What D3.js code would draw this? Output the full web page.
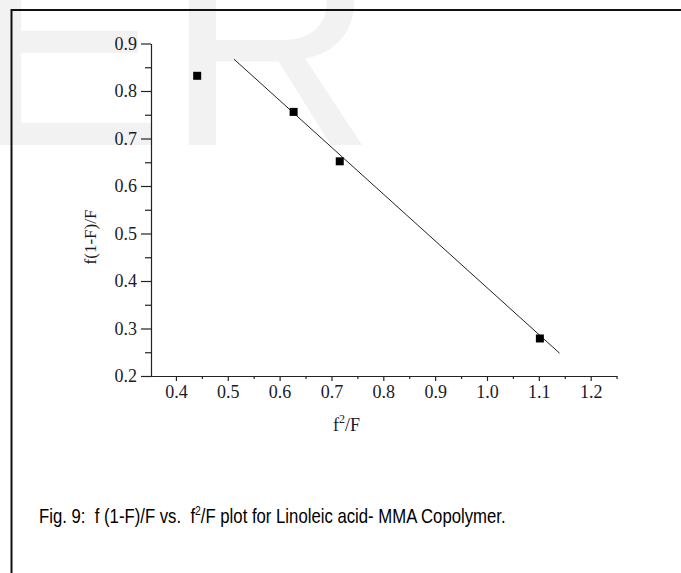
<!DOCTYPE html>
<html>
<head>
<meta charset="utf-8">
<script src="https://cdn.jsdelivr.net/npm/d3@7"></script>
<style>
  body { margin: 0; background: #fff; }
  svg { display: block; }
</style>
</head>
<body>
<svg id="chart"></svg>
<script>
// measured points
const pointsX = [0.441, 0.627, 0.716, 1.102];
const pointsY = [0.832, 0.756, 0.652, 0.279];
// fitted line end points
const fitX = [0.512, 1.14];
const fitY = [0.867, 0.248];

const xTicks = [0.4, 0.5, 0.6, 0.7, 0.8, 0.9, 1.0, 1.1, 1.2];
const xMinorTicks = [0.45, 0.55, 0.65, 0.75, 0.85, 0.95, 1.05, 1.15, 1.25];
const yTicks = [0.2, 0.3, 0.4, 0.5, 0.6, 0.7, 0.8, 0.9];
const yMinorTicks = [0.25, 0.35, 0.45, 0.55, 0.65, 0.75, 0.85];

const width = 681;
const height = 573;
const axisColor = "#222";
const textColor = "#1a1a2a";
const serif = "'Liberation Serif', 'Times New Roman', serif";

document.addEventListener("DOMContentLoaded", () => {
  drawChart("chart");
});

function drawChart(id) {
  const svg = d3.select(`svg#${id}`).attr("width", width).attr("height", height);

  // watermark
  svg
    .append("text")
    .attr("x", -30)
    .attr("y", 145)
    .style("font-family", "'Liberation Sans', Arial, sans-serif")
    .style("font-size", "292px")
    .style("fill", "#f2f2f2")
    .text("ER");

  // frame (top + left only)
  svg
    .append("path")
    .attr("d", `M${width},10H11.5V${height}`)
    .style("fill", "none")
    .style("stroke", "#111")
    .style("stroke-width", 2);

  const x = d3.scaleLinear().domain([0.35, 1.25]).range([150, 616.6]);
  const y = d3.scaleLinear().domain([0.2, 0.9]).range([376, 43.5]);

  // minor ticks
  svg
    .append("g")
    .attr("transform", "translate(151,0)")
    .call(d3.axisLeft(y).tickValues(yMinorTicks).tickSize(6))
    .call((g) => g.select(".domain").remove())
    .call((g) => g.selectAll("text").remove());
  svg
    .append("g")
    .attr("transform", "translate(0,376)")
    .call(d3.axisBottom(x).tickValues(xMinorTicks).tickSize(3))
    .call((g) => g.select(".domain").remove())
    .call((g) => g.selectAll("text").remove());

  svg
    .append("g")
    .attr("transform", "translate(151,0)")
    .call(
      d3
        .axisLeft(y)
        .tickValues(yTicks)
        .tickSize(10)
        .tickSizeOuter(0)
        .tickPadding(4)
        .tickFormat(d3.format(".1f"))
    );

  svg
    .append("g")
    .attr("transform", "translate(0,376)")
    .call(
      d3
        .axisBottom(x)
        .tickValues(xTicks)
        .tickSize(5)
        .tickSizeOuter(0)
        .tickPadding(4)
        .tickFormat(d3.format(".1f"))
    );

  svg
    .selectAll(".tick line, .domain")
    .style("stroke", axisColor)
    .style("stroke-width", 1.2);
  svg
    .selectAll(".tick text")
    .style("font-family", serif)
    .style("font-size", "18px")
    .style("fill", textColor);

  // axis titles
  const xTitle = svg
    .append("text")
    .attr("x", 333)
    .attr("y", 431)
    .style("font-family", serif)
    .style("font-size", "18px")
    .style("fill", textColor);
  xTitle.append("tspan").text("f");
  xTitle.append("tspan").attr("dy", -8).style("font-size", "12px").text("2");
  xTitle.append("tspan").attr("dy", 8).text("/F");

  svg
    .append("text")
    .attr("transform", "translate(96,237) rotate(-90)")
    .attr("text-anchor", "middle")
    .style("font-family", serif)
    .style("font-size", "17px")
    .style("fill", textColor)
    .text("f(1-F)/F");

  // fitted line
  svg
    .append("path")
    .datum(fitX.map((d, i) => [d, fitY[i]]))
    .attr("d", d3.line().x((d) => x(d[0])).y((d) => y(d[1])))
    .style("fill", "none")
    .style("stroke", "#222")
    .style("stroke-width", 1);

  // data squares
  svg
    .selectAll(".pt")
    .data(pointsX.map((d, i) => [d, pointsY[i]]))
    .enter()
    .append("rect")
    .attr("class", "pt")
    .attr("x", (d) => x(d[0]) - 4)
    .attr("y", (d) => y(d[1]) - 4)
    .attr("width", 8)
    .attr("height", 8)
    .style("fill", "#000");

  // caption (narrow face, squeezed to the width in the figure)
  const captionG = svg.append("g");
  const caption = captionG
    .append("text")
    .attr("x", 0)
    .attr("y", 0)
    .style("font-family", "'Liberation Sans Narrow', 'Arial Narrow', 'Liberation Sans', Arial, sans-serif")
    .style("font-size", "21px")
    .style("fill", "#000");
  caption.append("tspan").text("Fig. 9:\u00a0 f (1-F)/F vs.\u00a0 f");
  caption.append("tspan").attr("dy", -8).style("font-size", "13px").text("2");
  caption.append("tspan").attr("dy", 8).text("/F plot for Linoleic acid- MMA Copolymer.");
  const capW = caption.node().getBBox().width;
  captionG.attr("transform", `translate(39,523) scale(${467 / capW},1)`);
}
</script>
</body>
</html>
